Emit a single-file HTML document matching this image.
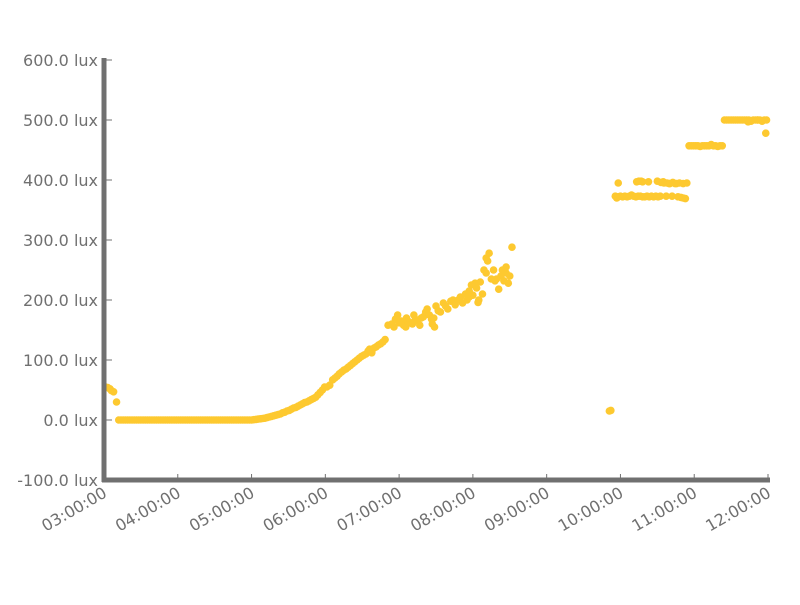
<!DOCTYPE html>
<html><head><meta charset="utf-8"><style>
body{margin:0;background:#fff;width:800px;height:600px;overflow:hidden}
text{font-family:"DejaVu Sans","Liberation Sans",sans-serif;fill:#707070;font-size:16px}
</style></head><body>
<svg id="chart" width="800" height="600">
<g id="grid"></g><g id="dots"></g><g id="axes"></g>
</svg>
<script>
const yTicks=[-100,0,100,200,300,400,500,600];
const yTickLabels=["-100.0 lux","0.0 lux","100.0 lux","200.0 lux","300.0 lux","400.0 lux","500.0 lux","600.0 lux"];
const xTicks=[3,4,5,6,7,8,9,10,11,12];
const xTickLabels=["03:00:00","04:00:00","05:00:00","06:00:00","07:00:00","08:00:00","09:00:00","10:00:00","11:00:00","12:00:00"];
const earlyTimes=[3.02,3.05,3.08,3.1,3.13,3.17];
const earlyValues=[55,54,52,49,47,30];
const zeroTimes=[3.2,3.23,3.26,3.29,3.32,3.35,3.38,3.41,3.44,3.47,3.5,3.53,3.56,3.59,3.62,3.65,3.68,3.71,3.74,3.77,3.8,3.83,3.86,3.89,3.92,3.95,3.98,4.01,4.04,4.07,4.1,4.13,4.16,4.19,4.22,4.25,4.28,4.31,4.34,4.37,4.4,4.43,4.46,4.49,4.52,4.55,4.58,4.61,4.64,4.67,4.7,4.73,4.76,4.79,4.82,4.85,4.88,4.91,4.94,4.97,5.0];
const riseTimes=[5.03,5.06,5.09,5.12,5.15,5.18,5.21,5.24,5.27,5.3,5.33,5.36,5.39,5.42,5.45,5.48,5.51,5.54,5.57,5.6,5.63,5.66,5.69,5.72,5.75,5.78,5.81,5.84,5.87,5.9,5.93,5.96,5.99,6.02,6.06,6.1,6.13,6.16,6.19,6.22,6.25,6.28,6.31,6.34,6.37,6.4,6.43,6.46,6.49,6.52,6.55,6.58,6.6,6.63,6.66,6.69,6.72,6.75,6.78,6.81];
const riseValues=[0.5,1,1.5,2,2.5,3,4,5,6,7,8,9,10,12,13,15,16,18,20,21,23,25,27,29,30,32,34,36,38,42,46,50,55,55,58,67,70,73,77,80,83,85,88,91,94,97,100,103,106,108,110,115,118,112,120,122,125,127,130,134];
const midTimes=[6.85,6.9,6.93,6.95,6.98,7.0,7.03,7.06,7.09,7.12,7.15,7.18,7.22,7.25,7.28,7.3,7.33,7.36,7.38,7.41,7.44,7.47,7.5,7.53,7.56,7.6,7.63,7.66,7.7,7.73,7.76,7.8,7.83,7.86,7.9,7.92,7.95,7.98,8.0,8.03,8.05,8.08,8.1,8.13,8.15,8.18,8.2,8.22,8.25,8.28,8.3,8.32,8.35,8.38,8.4,8.42,8.45,8.48,8.5,8.53,7.1,7.2,7.45,7.95,8.07,8.45,8.18,7.48];
const midValues=[158,160,155,168,175,162,165,158,155,165,162,160,168,165,158,170,172,180,185,175,168,170,190,182,180,195,190,185,198,200,192,200,205,195,210,200,215,225,208,228,220,200,230,210,250,245,265,278,235,250,232,235,218,240,250,232,255,228,240,288,170,175,160,205,196,245,270,155];
const lateTimes=[9.85,9.87];
const lateValues=[15,16];
const plat1Times=[9.93,9.95,9.97,10.0,10.03,10.06,10.09,10.12,10.15,10.18,10.21,10.24,10.27,10.3,10.33,10.36,10.39,10.42,10.45,10.48,10.51,10.54,10.58,10.62,10.66,10.7,10.74,10.78,10.82,10.85,10.88,9.97,10.22,10.25,10.28,10.3,10.38,10.5,10.55,10.59,10.63,10.67,10.71,10.76,10.8,10.85,10.9];
const plat1Values=[373,370,372,373,372,373,372,373,375,373,372,373,373,372,372,373,372,373,372,373,372,373,397,373,394,373,394,372,371,370,369,395,397,398,398,397,397,398,396,395,395,394,396,394,395,394,395];
const plat2Times=[10.93,10.96,10.99,11.02,11.05,11.08,11.11,11.14,11.17,11.2,11.23,11.26,11.29,11.32,11.35,11.38];
const plat2Values=[457,457,457,457,457,456,457,457,457,457,459,457,457,456,457,457];
const plat3Times=[11.41,11.44,11.47,11.5,11.53,11.56,11.59,11.62,11.65,11.68,11.71,11.74,11.77,11.8,11.83,11.86,11.89,11.92,11.95,11.98,11.73,11.86,11.97];
const plat3Values=[500,500,500,500,500,500,500,500,500,500,500,500,498,500,500,500,500,498,500,500,497,500,478];

const X0=104,X1=768,Y0=480,Y1=60;
const xs=t=>X0+(t-3)/9*(X1-X0);
const ys=v=>Y0-(v+100)/700*(Y0-Y1);
const NS="http://www.w3.org/2000/svg";
function mk(tag,attrs,parent){const e=document.createElementNS(NS,tag);for(const k in attrs)e.setAttribute(k,attrs[k]);parent.appendChild(e);return e;}
const dots=document.getElementById('dots'),axes=document.getElementById('axes');
const series=[[earlyTimes,earlyValues],[zeroTimes,zeroTimes.map(()=>0)],[riseTimes,riseValues],[midTimes,midValues],[lateTimes,lateValues],[plat1Times,plat1Values],[plat2Times,plat2Values],[plat3Times,plat3Values]];
series.forEach(([ts,vs])=>ts.forEach((t,i)=>{
  const c=mk('circle',{cx:xs(t),cy:ys(vs[i]),r:3.8,fill:'#fdc930'},dots);
  
  
}));
const ya=mk('line',{x1:X0,y1:Y1-2,x2:X0,y2:Y0+2,stroke:'#707070','stroke-width':5},axes);


const xa=mk('line',{x1:X0-2,y1:Y0,x2:X1+2,y2:Y0,stroke:'#707070','stroke-width':5},axes);


yTicks.forEach((v,i)=>{
  mk('line',{x1:X0,y1:ys(v),x2:X0+8,y2:ys(v),stroke:'#707070','stroke-width':1},axes);
  const t=mk('text',{x:X0-6,y:ys(v)+6,'text-anchor':'end'},axes);
  t.textContent=yTickLabels[i];
  
  
});
xTicks.forEach((h,i)=>{
  const x=xs(h);
  mk('line',{x1:x,y1:Y0,x2:x,y2:Y0-6,stroke:'#707070','stroke-width':1},axes);
  const t=mk('text',{x:x+4,y:Y0+16,'text-anchor':'end',transform:`rotate(-30 ${x+4} ${Y0+16})`},axes);
  t.textContent=xTickLabels[i];
  
  
});
</script>
</body></html>
